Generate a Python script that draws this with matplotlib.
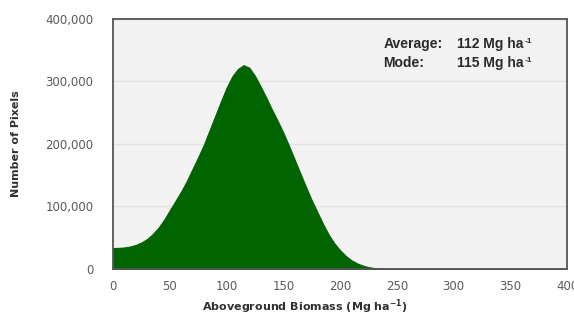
import matplotlib
matplotlib.use("Agg")
import matplotlib.pyplot as plt

# biomass histogram
biomass = [0, 5, 10, 15, 20, 25, 30, 35, 40, 45, 50, 55, 60, 65, 70, 75, 80,
           85, 90, 95, 100, 105, 110, 115, 120, 125, 130, 135, 140, 145, 150,
           155, 160, 165, 170, 175, 180, 185, 190, 195, 200, 205, 210, 215,
           220, 225, 230, 235, 240, 245, 250, 300, 350, 400]
pixels = [33500, 33800, 34500, 36000, 38500, 42500, 48000, 56000, 66000,
          79000, 94000, 109000, 124000, 141000, 160000, 179000, 199000,
          222000, 245000, 268000, 290000, 308000, 320000, 326000, 322000,
          309000, 292000, 274000, 255000, 237000, 218000, 197000, 175000,
          153000, 131000, 110000, 91000, 72000, 55000, 41000, 30000, 21000,
          14000, 9000, 5500, 3000, 1600, 800, 400, 150, 0, 0, 0, 0]

xticks = [0, 50, 100, 150, 200, 250, 300, 350, 400]
yticks = [0, 100000, 200000, 300000, 400000]
ylabels = ["0", "100,000", "200,000", "300,000", "400,000"]

fig = plt.figure(figsize=(5.74, 3.15), dpi=100)
ax = fig.add_axes([0.197, 0.146, 0.791, 0.794])
ax.set_facecolor("#f2f2f2")

ax.fill_between(biomass, pixels, 0, color="#006400", lw=0.8, edgecolor="#0b5e0b")

ax.set_xlim(0, 400)
ax.set_ylim(0, 400000)
ax.set_xticks(xticks)
ax.set_xticklabels([str(t) for t in xticks])
ax.set_yticks(yticks)
ax.set_yticklabels(ylabels)
ax.tick_params(axis="y", length=0, labelsize=8.5, labelcolor="#5a5a5a", pad=14)
ax.tick_params(axis="x", length=0, labelsize=8.5, labelcolor="#5a5a5a", pad=8)
ax.grid(axis="y", color="#e2e2e2", lw=1)
ax.set_axisbelow(True)
for s in ax.spines.values():
    s.set_color("#555555")
    s.set_linewidth(1.3)

ax.set_xlabel(r"Aboveground Biomass (Mg ha$^{\mathbf{-1}}$)", fontsize=8,
              fontweight="bold", color="#303030")
ax.xaxis.set_label_coords(0.423, -0.115)
ax.set_ylabel("Number of Pixels", fontsize=8, fontweight="bold",
              color="#303030")
ax.yaxis.set_label_coords(-0.203, 0.5)

fnt = dict(fontsize=10, fontweight="bold", color="#2a2a2a",
           family="Liberation Sans", va="center")
rows = [("Average:", "112 Mg ha", 0.90), ("Mode:", "115 Mg ha", 0.824)]
for lab, val, yy in rows:
    ax.text(0.595, yy, lab, transform=ax.transAxes, **fnt)
    t = ax.text(0.758, yy, val, transform=ax.transAxes, **fnt)
    ax.annotate("-1", xy=(1, 0.95), xycoords=t, xytext=(0.5, 0),
                textcoords="offset points", fontsize=6, fontweight="bold",
                color="#2a2a2a", family="Liberation Sans", va="top", ha="left")

fig.savefig("out.png", dpi=100)
